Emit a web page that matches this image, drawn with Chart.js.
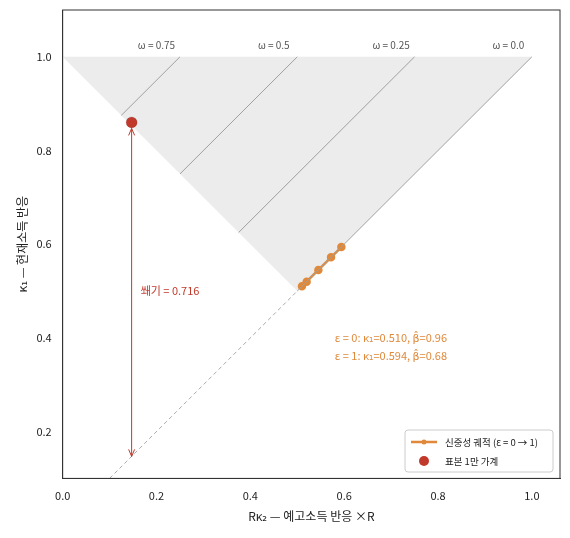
<!DOCTYPE html>
<html><head><meta charset="utf-8">
<script src="https://cdn.jsdelivr.net/npm/chart.js@4"></script>
<style>body{margin:0;background:#fff}#w{width:570px;height:538px}</style>
</head><body><div id="w"><canvas id="c"></canvas></div>
<script>
const FONT = "'Noto Sans CJK KR', 'DejaVu Sans', sans-serif";
const triangle = [{x:0,y:1},{x:1,y:1},{x:0.5,y:0.5}];
const omegas = [0.75, 0.5, 0.25, 0.0];
const omegaLabels = ['ω = 0.75','ω = 0.5','ω = 0.25','ω = 0.0'];
const diag = [{x:0.1,y:0.1},{x:0.5,y:0.5}];
const trajK1 = [0.510, 0.520, 0.545, 0.572, 0.594];
const sample = {x:0.147, y:0.86};
const arrowBottom = 0.147;
const wedge = 0.716;
const xTicks = [0,0.2,0.4,0.6,0.8,1.0];
const yTicks = [0.2,0.4,0.6,0.8,1.0];
const orange = '#e0893a', red = '#c0392b';

const omegaSets = omegas.map(w => ({
  data:[{x:1-w,y:1},{x:(1-w)/2,y:1-(1-w)/2}],
  borderColor:'#a0a0a0', borderWidth:1, pointRadius:0, showLine:true
}));

const shade = {
  id:'shade',
  beforeDatasetsDraw(ch){
    const {ctx, scales:{x,y}} = ch;
    ctx.save(); ctx.fillStyle='#ececec'; ctx.beginPath();
    triangle.forEach((p,i)=>{const X=x.getPixelForValue(p.x),Y=y.getPixelForValue(p.y); i?ctx.lineTo(X,Y):ctx.moveTo(X,Y);});
    ctx.closePath(); ctx.fill(); ctx.restore();
  }
};

const annot = {
  id:'annot',
  afterDatasetsDraw(ch){
    const {ctx, scales:{x,y}} = ch;
    ctx.save();
    const px = x.getPixelForValue(sample.x);
    const y1 = y.getPixelForValue(sample.y)+6, y2 = y.getPixelForValue(arrowBottom);
    ctx.strokeStyle=red; ctx.lineWidth=1;
    ctx.beginPath(); ctx.moveTo(px,y1); ctx.lineTo(px,y2); ctx.stroke();
    [[y1,1],[y2,-1]].forEach(([yy,d])=>{ctx.beginPath();ctx.moveTo(px-3,yy+d*7);ctx.lineTo(px,yy);ctx.lineTo(px+3,yy+d*7);ctx.stroke();});
    ctx.fillStyle=red; ctx.font='11px '+FONT; ctx.textBaseline='middle';
    ctx.fillText('쐐기 = '+wedge.toFixed(3), px+9, y.getPixelForValue(0.5));
    ctx.fillStyle='#555'; ctx.font='10px '+FONT; ctx.textAlign='center';
    omegas.forEach((w,i)=>ctx.fillText(omegaLabels[i], x.getPixelForValue(1-w-0.05), y.getPixelForValue(1.025)));
    ctx.textAlign='left'; ctx.fillStyle=orange; ctx.font='11px '+FONT;
    ctx.fillText('ε = 0: κ₁=0.510, β̂=0.96', x.getPixelForValue(0.58), y.getPixelForValue(0.4));
    ctx.fillText('ε = 1: κ₁=0.594, β̂=0.68', x.getPixelForValue(0.58), y.getPixelForValue(0.362));
    const lx=405, ly=430, lw=148, lh=42;
    ctx.fillStyle='rgba(255,255,255,0.9)'; ctx.strokeStyle='#ccc';
    ctx.beginPath(); ctx.roundRect(lx,ly,lw,lh,3); ctx.fill(); ctx.stroke();
    ctx.strokeStyle=orange; ctx.lineWidth=2.5;
    ctx.beginPath(); ctx.moveTo(lx+6,ly+12); ctx.lineTo(lx+32,ly+12); ctx.stroke();
    ctx.fillStyle=orange; ctx.beginPath(); ctx.arc(lx+19,ly+12,2.5,0,7); ctx.fill();
    ctx.fillStyle=red; ctx.beginPath(); ctx.arc(lx+19,ly+31,5,0,7); ctx.fill();
    ctx.fillStyle='#222'; ctx.font='9.5px '+FONT;
    ctx.fillText('신중성 궤적 (ε = 0 → 1)', lx+40, ly+12);
    ctx.fillText('표본 1만 가계', lx+40, ly+31);
    ctx.restore();
  }
};

new Chart(document.getElementById('c'), {
  type:'scatter',
  data:{datasets:[
    ...omegaSets,
    {data:diag, showLine:true, borderColor:'#aaa', borderDash:[4,3], borderWidth:1, pointRadius:0},
    {data:trajK1.map(v=>({x:v,y:v})), showLine:true, borderColor:orange, backgroundColor:orange, borderWidth:2.5, pointRadius:3},
    {data:[sample], backgroundColor:red, pointRadius:5.5}
  ]},
  options:{
    responsive:true, maintainAspectRatio:false, animation:false,
    layout:{padding:{left:11,right:10,top:10,bottom:10}},
    plugins:{legend:{display:false}, tooltip:{enabled:false}},
    scales:{
      x:{min:0,max:1.06,grid:{display:false},border:{color:'#333'},
        afterBuildTicks:s=>{s.ticks=xTicks.map(v=>({value:v}));},
        ticks:{color:'#222',font:{family:FONT,size:11},callback:v=>v.toFixed(1)},
        title:{display:true,text:'Rκ₂ — 예고소득 반응 ×R',color:'#222',font:{family:FONT,size:12}}},
      y:{min:0.1,max:1.1,grid:{display:false},border:{color:'#333'},
        afterBuildTicks:s=>{s.ticks=yTicks.map(v=>({value:v}));},
        ticks:{color:'#222',font:{family:FONT,size:11},callback:v=>v.toFixed(1)},
        title:{display:true,text:'κ₁ — 현재소득 반응',color:'#222',font:{family:FONT,size:12}}}
    }
  },
  plugins:[shade, annot, {id:'frame',afterDraw(ch){const {ctx,chartArea:a}=ch;ctx.save();ctx.strokeStyle='#333';ctx.lineWidth=1;ctx.strokeRect(a.left,a.top,a.width,a.height);ctx.restore();}}]
});
</script></body></html>
